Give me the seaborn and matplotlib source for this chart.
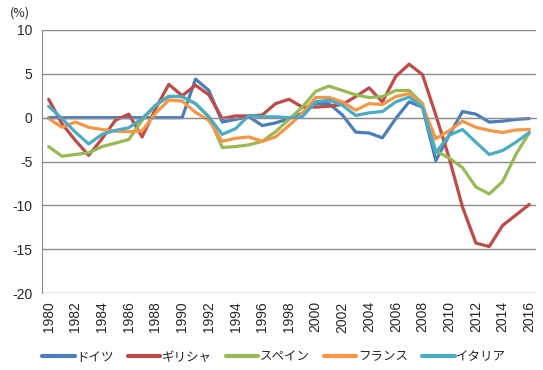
import numpy as np
import pandas as pd
import seaborn as sns
import matplotlib.pyplot as plt

years = list(range(1980, 2017))
countries = ["ドイツ", "ギリシャ", "スペイン", "フランス", "イタリア"]
colors = ["#4A7EBB", "#BE4B48", "#98B954", "#F79646", "#4BACC6"]

germany = [0, 0, 0, 0, 0, 0, 0, 0, 0, 0, 0, 4.4, 3.1, -0.5, -0.2, 0.1, -0.9, -0.6, -0.1, 0.5,
           1.6, 1.6, 0.3, -1.65, -1.75, -2.3, -0.1, 1.8, 1.2, -4.9, -2.0, 0.7, 0.4, -0.5, -0.4, -0.2, -0.1]
greece = [2.1, -0.7, -2.6, -4.3, -2.4, -0.3, 0.4, -2.2, 1.0, 3.8, 2.5, 3.7, 2.6, -0.1, 0.2, 0.2, 0.3, 1.6, 2.1, 1.2,
          1.2, 1.3, 1.5, 2.4, 3.4, 1.8, 4.7, 6.1, 4.9, 0.3, -4.6, -10.2, -14.3, -14.7, -12.3, -11.1, -9.9]
spain = [-3.3, -4.4, -4.2, -4.0, -3.3, -2.9, -2.5, -0.3, 1.4, 2.4, 2.4, 1.6, 0.1, -3.4, -3.3, -3.1, -2.7, -1.6, -0.2, 1.2,
         3.0, 3.6, 3.1, 2.6, 2.3, 2.4, 3.1, 3.1, 1.6, -3.8, -4.6, -5.7, -7.9, -8.7, -7.3, -4.2, -1.7]
france = [-0.1, -1.1, -0.5, -1.1, -1.35, -1.55, -1.6, -1.5, 0.5, 2.0, 1.9, 0.6, -0.3, -2.7, -2.35, -2.2, -2.7, -2.2, -0.9, 0.5,
          2.3, 2.3, 1.8, 0.85, 1.6, 1.5, 2.4, 2.75, 1.4, -2.4, -1.5, -0.4, -1.1, -1.45, -1.7, -1.4, -1.35]
italy = [1.3, -0.1, -1.65, -3.0, -1.9, -1.45, -1.15, -0.1, 1.4, 2.45, 2.4, 1.6, 0.1, -1.9, -1.25, 0.25, 0.1, 0.1, 0.0, 0.1,
         1.8, 2.0, 1.4, 0.25, 0.55, 0.7, 1.8, 2.35, 1.2, -4.0, -2.0, -1.35, -2.8, -4.2, -3.75, -2.8, -1.7]

yticks = [10, 5, 0, -5, -10, -15, -20]

# long form table for seaborn
df = pd.DataFrame({"idx": list(range(len(years))) * 5,
                   "value": germany + greece + spain + france + italy,
                   "country": sum([[c] * len(years) for c in countries], [])})

sns.set_style("white")
plt.rcParams["font.family"] = ["Noto Sans CJK JP", "DejaVu Sans"]
num_font = "Liberation Sans"

fig = plt.figure(figsize=(5.43, 3.70), dpi=100)
ax = fig.add_axes([0.0773, 0.208, 0.9097, 0.711])

sns.lineplot(data=df, x="idx", y="value", hue="country", hue_order=countries,
             palette=colors, linewidth=2.3, sort=False, ax=ax, legend=False)

grid_c = "#8C8C8C"
ax.set_xlim(-0.5, len(years) - 0.5)
ax.set_ylim(-20, 10)
ax.set_yticks(yticks)
ax.set_yticklabels([str(v) for v in yticks], fontsize=10, family=num_font)
ax.yaxis.grid(True, color=grid_c, linewidth=1)
ax.set_axisbelow(True)
ax.set_xlabel("")
ax.set_ylabel("")

for s in ["top", "right"]:
    ax.spines[s].set_visible(False)
ax.spines["left"].set_color(grid_c)
ax.spines["bottom"].set_position(("data", 0))
ax.spines["bottom"].set_color(grid_c)
ax.set_xticks(np.arange(-0.5, len(years), 1))
ax.set_xticklabels([])
ax.tick_params(axis="x", direction="out", length=4, color=grid_c, width=1)
ax.tick_params(axis="y", direction="out", length=5, color=grid_c, width=1, pad=2)

sec = ax.secondary_xaxis(0)
sec.set_xticks(list(range(0, len(years), 2)))
sec.set_xticklabels([str(y) for y in years[::2]], rotation=90, fontsize=10, family=num_font)
sec.tick_params(length=0, pad=6)
sec.spines["bottom"].set_visible(False)

fig.text(0.018, 0.955, "(%)", fontsize=9)

handles = [plt.Line2D([], [], color=c, linewidth=3) for c in colors]
fig.legend(handles, countries, loc="center", bbox_to_anchor=(0.505, 0.035), ncol=5,
           frameon=False, fontsize=9, handlelength=2.6, handletextpad=0.15, columnspacing=1.1)

fig.savefig("out.png", dpi=100)
